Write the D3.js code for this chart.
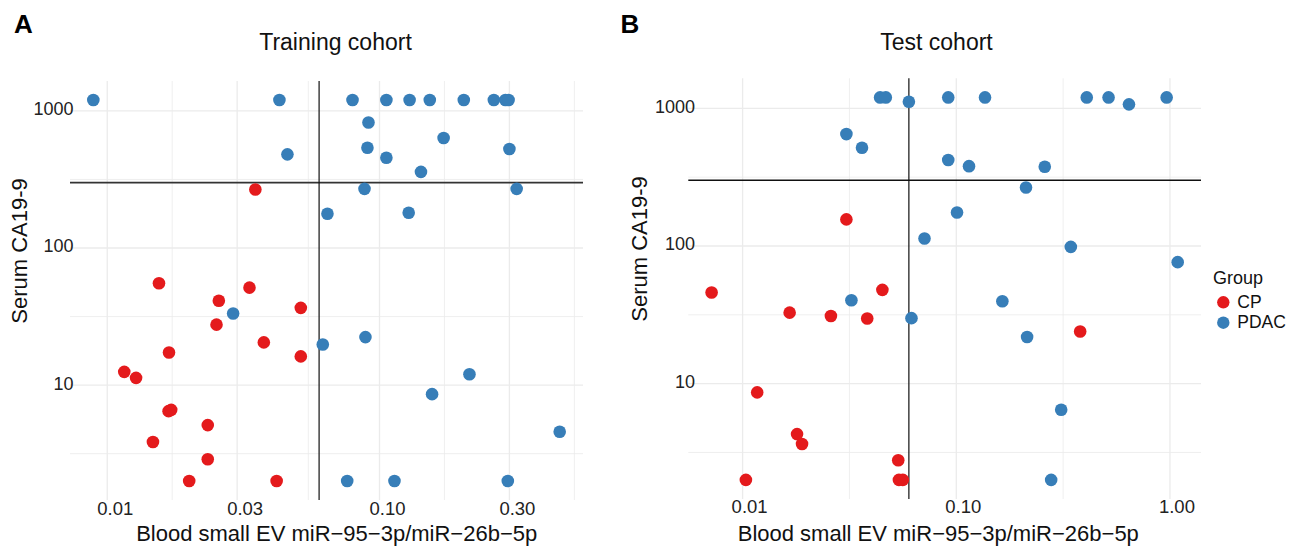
<!DOCTYPE html>
<html>
<head>
<meta charset="utf-8">
<script src="https://cdn.jsdelivr.net/npm/d3@7"></script>
<style>
  body { margin: 0; background: #fff; }
  text { font-family: "Liberation Sans", Arial, sans-serif; }
</style>
</head>
<body>
<script>
const Width = 1301;
const Height = 547;

// data: [ratio, serum CA19-9]
const trainCP = [
  [0.01549, 55.3], [0.0333, 51.4], [0.0257, 41.2], [0.0514, 36.6], [0.0252, 27.6],
  [0.0376, 20.5], [0.01686, 17.3], [0.0514, 16.2], [0.01155, 12.5], [0.01276, 11.3],
  [0.0168, 6.46], [0.01718, 6.6], [0.0234, 5.11], [0.01472, 3.85], [0.0234, 2.88],
  [0.02, 2], [0.0419, 2], [0.035, 267]
];
const trainPDAC = [
  [0.00889, 1200], [0.0429, 1200], [0.0459, 482], [0.0796, 1200], [0.106, 1200],
  [0.129, 1200], [0.153, 1200], [0.204, 1200], [0.263, 1200], [0.290, 1200],
  [0.298, 1200], [0.0911, 824], [0.0903, 538], [0.106, 455], [0.172, 634],
  [0.142, 359], [0.300, 527], [0.0881, 270], [0.319, 270], [0.0644, 178],
  [0.128, 181], [0.0290, 33.3], [0.0619, 19.8], [0.0888, 22.4], [0.214, 12.0],
  [0.156, 8.59], [0.459, 4.57], [0.0761, 2], [0.1135, 2], [0.296, 2]
];
const testCP = [
  [0.0306, 156], [0.00716, 45.9], [0.0451, 48.0], [0.0166, 32.8], [0.0259, 31.0],
  [0.0383, 29.7], [0.0117, 8.64], [0.01798, 4.30], [0.01897, 3.64], [0.0535, 2.78],
  [0.01036, 2], [0.0539, 2], [0.0562, 2], [0.380, 23.9]
];
const testPDAC = [
  [0.0440, 1200], [0.0468, 1200], [0.0600, 1117], [0.0917, 1200], [0.1363, 1200],
  [0.408, 1200], [0.516, 1200], [0.643, 1069], [0.965, 1200], [0.0306, 650],
  [0.0362, 517], [0.0917, 421], [0.1147, 380], [0.2595, 376], [0.212, 266],
  [0.1008, 175], [0.0710, 113.4], [0.3436, 98.5], [1.087, 76.3], [0.1643, 39.7],
  [0.0323, 40.4], [0.0617, 29.9], [0.2145, 21.8], [0.3097, 6.47], [0.278, 2]
];

const trainXTicks = [0.01, 0.03, 0.1, 0.3];
const testXTicks = [0.01, 0.1, 1];
const yTicks = [10, 100, 1000];
const groups = ["CP", "PDAC"];
const cutX = 0.06;
const cutY = 300;

const color = d3.scaleOrdinal().domain(groups).range(["#E41A1C", "#377EB8"]);

const svg = d3.select('body')
  .append('svg')
    .attr('width', Width)
    .attr('height', Height);

// ggplot-like log domain, 5% expansion
const logDomain = vals => {
  const e = d3.extent(vals, v => Math.log10(v));
  const pad = (e[1] - e[0]) * 0.05;
  return [Math.pow(10, e[0] - pad), Math.pow(10, e[1] + pad)];
};

const minorBreaks = (majors, domain) => {
  const lm = majors.map(Math.log10);
  const bd = lm[1] - lm[0];
  const ext = [lm[0] - bd, ...lm, lm[lm.length - 1] + bd];
  const out = [];
  for (let i = 0; i < ext.length - 1; i++) out.push(Math.pow(10, (ext[i] + ext[i + 1]) / 2));
  return out.filter(v => v > domain[0] && v < domain[1]);
};

const drawPanel = p => {
  const all = p.cp.concat(p.pdac);
  const xDom = logDomain(all.map(d => d[0]));
  const yDom = logDomain(all.map(d => d[1]));
  const x = d3.scaleLog().domain(xDom).range([p.left, p.right]);
  const y = d3.scaleLog().domain(yDom).range([p.bottom, p.top]);
  const g = svg.append('g');

  // grid
  g.selectAll('.xminor').data(minorBreaks(p.xTicks, xDom)).join('line')
    .attr('x1', d => x(d)).attr('x2', d => x(d))
    .attr('y1', p.top).attr('y2', p.bottom)
    .attr('stroke', '#ebebeb').attr('stroke-width', 0.8);
  g.selectAll('.yminor').data(minorBreaks(yTicks, yDom)).join('line')
    .attr('y1', d => y(d)).attr('y2', d => y(d))
    .attr('x1', p.left).attr('x2', p.right)
    .attr('stroke', '#ebebeb').attr('stroke-width', 0.8);
  g.selectAll('.xmajor').data(p.xTicks).join('line')
    .attr('x1', d => x(d)).attr('x2', d => x(d))
    .attr('y1', p.top).attr('y2', p.bottom)
    .attr('stroke', '#ebebeb').attr('stroke-width', 1.3);
  g.selectAll('.ymajor').data(yTicks).join('line')
    .attr('y1', d => y(d)).attr('y2', d => y(d))
    .attr('x1', p.left).attr('x2', p.right)
    .attr('stroke', '#ebebeb').attr('stroke-width', 1.3);

  // cutoffs
  g.append('line')
    .attr('x1', p.left).attr('x2', p.right)
    .attr('y1', y(cutY)).attr('y2', y(cutY))
    .attr('stroke', p.hColor).attr('stroke-width', p.hWidth);
  g.append('line')
    .attr('x1', x(cutX)).attr('x2', x(cutX))
    .attr('y1', p.top).attr('y2', p.bottom)
    .attr('stroke', '#111').attr('stroke-width', 1.2);

  // points
  const pts = p.cp.map(d => ({x: d[0], y: d[1], group: 'CP'}))
    .concat(p.pdac.map(d => ({x: d[0], y: d[1], group: 'PDAC'})));
  g.selectAll('circle').data(pts).join('circle')
    .attr('cx', d => x(d.x))
    .attr('cy', d => y(d.y))
    .attr('r', 6.3)
    .attr('fill', d => color(d.group));

  // tick labels
  g.selectAll('.xlab').data(p.xTicks).join('text')
    .attr('x', d => x(d) + p.xLabShift)
    .attr('y', p.xLabY)
    .attr('text-anchor', 'middle')
    .attr('font-size', 18.5)
    .attr('fill', '#222')
    .text(d => d3.format('.2f')(d));
  g.selectAll('.ylab').data(yTicks).join('text')
    .attr('x', p.yLabX)
    .attr('y', d => y(d) + 4.4)
    .attr('text-anchor', 'end')
    .attr('font-size', 18)
    .attr('fill', '#222')
    .text(d => d);

  // titles
  g.append('text')
    .attr('x', p.titleX).attr('y', 49.5)
    .attr('text-anchor', 'middle')
    .attr('font-size', 23)
    .attr('fill', '#111')
    .text(p.title);
  g.append('text')
    .attr('x', p.tagX).attr('y', 33)
    .attr('font-size', 26)
    .attr('font-weight', 'bold')
    .text(p.tag);
  g.append('text')
    .attr('x', p.xTitleX).attr('y', 541)
    .attr('text-anchor', 'middle')
    .attr('font-size', 22)
    .attr('fill', '#111')
    .text('Blood small EV miR\u221295\u22123p/miR\u221226b\u22125p');
  g.append('text')
    .attr('transform', `translate(${p.yTitleX}, ${p.yTitleY}) rotate(-90)`)
    .attr('text-anchor', 'middle')
    .attr('font-size', 22)
    .attr('fill', '#111')
    .text('Serum CA19-9');
};

drawPanel({
  cp: trainCP, pdac: trainPDAC, xTicks: trainXTicks,
  left: 70, right: 583, top: 81, bottom: 500,
  hColor: '#333', hWidth: 1.8,
  xLabShift: 8, xLabY: 515, yLabX: 73.5,
  title: 'Training cohort', titleX: 335.5, tag: 'A', tagX: 14,
  xTitleX: 336.7, yTitleX: 27, yTitleY: 251
});

drawPanel({
  cp: testCP, pdac: testPDAC, xTicks: testXTicks,
  left: 688.3, right: 1201, top: 78.3, bottom: 499,
  hColor: '#111', hWidth: 1.4,
  xLabShift: 7, xLabY: 513, yLabX: 695,
  title: 'Test cohort', titleX: 936.5, tag: 'B', tagX: 620.5,
  xTitleX: 938.3, yTitleX: 647.3, yTitleY: 249
});

// legend
const legendG = svg.append('g')
  .attr('transform', 'translate(1213, 284)');
legendG.append('text')
  .attr('font-size', 18)
  .attr('fill', '#111')
  .text('Group');
const item = legendG.selectAll('.item').data(groups).join('g')
  .attr('transform', (d, i) => `translate(0, ${18.3 + i * 20.4})`);
item.append('circle')
  .attr('cx', 10.3)
  .attr('r', 6.2)
  .attr('fill', d => color(d));
item.append('text')
  .attr('x', 24.3)
  .attr('y', 5.5)
  .attr('font-size', 17.5)
  .attr('fill', '#111')
  .text(d => d);
</script>
</body>
</html>
